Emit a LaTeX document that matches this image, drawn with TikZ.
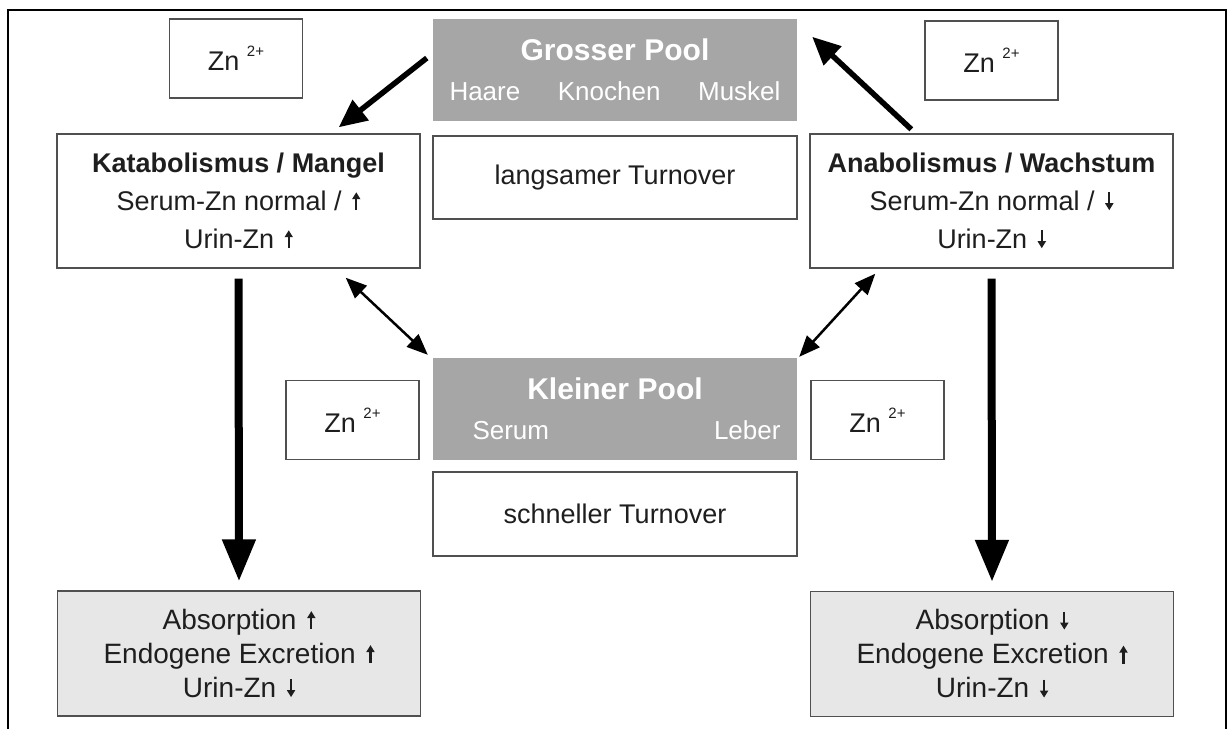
\documentclass[tikz,border=0pt]{standalone}
\usepackage{fontspec}
\setmainfont{Liberation Sans}
\usetikzlibrary{arrows.meta,positioning}
\definecolor{poolGrey}{HTML}{A6A6A6}
\definecolor{lowGrey}{HTML}{E7E7E7}
\definecolor{rimGrey}{HTML}{505050}
\definecolor{inkGrey}{HTML}{1E1E1E}
\newcommand{\zion}{Zn \raisebox{14pt}{\fontsize{15}{15}\selectfont 2+}}
% small up/down trend marks
\newcommand{\trendup}{\hspace{3pt}\tikz[baseline=0pt]\draw[draw=inkGrey,line width=2.2pt,
  -{Triangle[length=7pt,width=8pt]}] (0pt,0pt) -- (0pt,18pt);}
\newcommand{\trenddown}{\hspace{3pt}\tikz[baseline=0pt]\draw[draw=inkGrey,line width=2.2pt,
  -{Triangle[length=7pt,width=8pt]}] (0pt,18pt) -- (0pt,0pt);}

\begin{document}
\begin{tikzpicture}[x=1pt,y=-1pt,font=\fontsize{27}{38}\selectfont,
  box/.style={draw=rimGrey,line width=1.4pt,fill=white,text=inkGrey,align=center,inner sep=0pt},
  pool/.style={fill=poolGrey,text=white,align=center,inner sep=0pt,
               minimum width=364pt,minimum height=102pt,text width=331pt,
               font=\fontsize{26}{40}\selectfont},
  ionbox/.style={box,minimum width=133pt,minimum height=79pt},
  statebox/.style={box,minimum width=363pt,minimum height=134pt},
  outbox/.style={box,fill=lowGrey,minimum width=363pt,minimum height=125pt,
                 font=\fontsize{28}{34}\selectfont},
  turnbox/.style={box,minimum width=364pt,minimum height=83pt},
  fat/.style={line width=8pt,-{Triangle[length=42pt,width=32pt]}},
  bold/.style={line width=5.5pt,-{Triangle[length=28pt,width=25pt]}},
  swap/.style={line width=2.5pt,{Triangle[length=21pt,width=17pt]}-{Triangle[length=21pt,width=17pt]}}]
  \useasboundingbox (0,0) rectangle (1230,729);

  % open frame
  \draw[line width=2.5pt] (8,729) -- (8,10) -- (1226,10) -- (1226,729);

  % pools
  \node[pool] (grossp) at (615,70) {%
    {\fontsize{30}{30}\selectfont\bfseries Grosser Pool}\\
    \makebox[331pt]{Haare\hfill Knochen\hfill Muskel}};
  \node[turnbox,below=14pt of grossp] (langsam) {langsamer Turnover};
  \node[pool] (klein) at (615,409) {%
    {\fontsize{30}{30}\selectfont\bfseries Kleiner Pool}\\
    \makebox[331pt]{\hspace{23pt}Serum\hfill Leber}};
  \node[turnbox,minimum height=84pt,below=11pt of klein] (schnell) {schneller Turnover};

  % zinc ions
  \node[ionbox] (zntl) at (236,58.5) {\zion};
  \node[ionbox] (zntr) at (991.5,60.5) {\zion};
  \node[ionbox] (znml) at (352.5,420) {\zion};
  \node[ionbox] (znmr) at (877.5,420) {\zion};

  % states
  \node[statebox] (katab) at (238.5,201) {%
    \textbf{Katabolismus / Mangel}\\Serum-Zn normal / \trendup\\Urin-Zn \trendup};
  \node[statebox] (anab) at (991.5,201) {%
    \textbf{Anabolismus / Wachstum}\\Serum-Zn normal / \trenddown\\Urin-Zn \trenddown};

  % outcomes
  \node[outbox] (lowl) at (239,653.5) {%
    Absorption \trendup\\Endogene Excretion \trendup\\Urin-Zn \trenddown};
  \node[outbox] (lowr) at (992,654) {%
    Absorption \trenddown\\Endogene Excretion \trendup\\Urin-Zn \trenddown};

  % arrows
  \draw[bold] ([xshift=-6pt,yshift=12pt]grossp.west) -- ([xshift=-82pt,yshift=6pt]katab.north east);
  \draw[bold] ([xshift=102pt,yshift=4pt]anab.north west) -- ([xshift=15pt,yshift=-18pt]grossp.north east);
  \draw[swap] ([xshift=-75pt,yshift=-9pt]katab.south east) -- ([xshift=-5pt,yshift=3pt]klein.north west);
  \draw[swap] ([xshift=66pt,yshift=-5pt]anab.south west) -- ([xshift=2pt,yshift=1pt]klein.north east);
  \draw[fat] ([yshift=-10pt]katab.south) -- ([yshift=9pt]lowl.north);
  \draw[fat] ([yshift=-10pt]anab.south) -- ([yshift=9pt]lowr.north);
\end{tikzpicture}
\end{document}
